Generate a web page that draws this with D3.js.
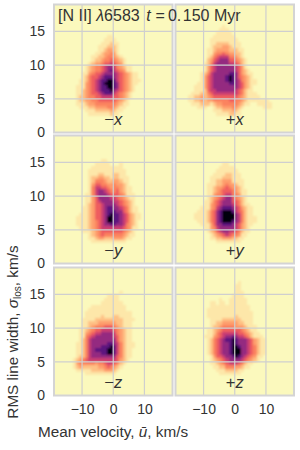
<!DOCTYPE html>
<html>
<head>
<meta charset="utf-8">
<script src="https://cdn.jsdelivr.net/npm/d3@7"></script>
<style>
  html, body { margin: 0; padding: 0; background: #fff; }
  text { font-family: "Liberation Sans", Arial, sans-serif; fill: #333; }
</style>
</head>
<body>
<div id="sandbox"></div>
<script>
// tick labels
var xTicks = [-10, 0, 10];
var yTicks = [0, 5, 10, 15];
var panelNames = ['\u2212x', '+x', '\u2212y', '+y', '\u2212z', '+z'];

// bin edges of the maps below: first column starts at -16 km/s, first row starts at 16.5 km/s
var xBins = d3.range(-16, 14);
var yBins = d3.range(16.5, 2, -0.5);

// intensity levels, 0 = empty, 9 = black
var minusX = [
 '000000 00000 00000 00000 00000 0000',
 '000000 00000 00000 00000 00000 0000',
 '000000 00000 00000 00000 00000 0000',
 '000000 00000 00000 00000 00000 0000',
 '000000 00000 00000 00000 00000 0000',
 '000000 00000 00011 00000 00000 0000',
 '000000 00000 00111 10000 00000 0000',
 '000000 00000 01112 11000 00000 0000',
 '000000 00000 11122 21000 00000 0000',
 '000000 00000 11233 21000 00000 0000',
 '000000 00001 12334 31000 00000 0000',
 '000000 00011 22344 32100 00000 0000',
 '000000 00012 23445 43210 00000 0000',
 '000000 00123 34556 54310 00000 0000',
 '000000 01234 45677 64321 10000 0000',
 '000000 01234 45678 65431 10000 0000',
 '000000 11345 56777 76543 21100 0000',
 '000000 12455 67888 76543 21100 0000',
 '000001 12456 78899 86543 21110 0000',
 '000001 13456 78999 87543 21100 0000',
 '000011 13456 78899 87543 21000 0000',
 '000011 23456 78889 76543 21000 0000',
 '000011 23455 67888 65432 10000 0000',
 '000012 23445 56666 55432 10000 0000',
 '000012 23344 55555 54321 00000 0000',
 '000011 12334 44444 43211 00000 0000',
 '000001 11223 33344 32110 00000 0000',
 '000000 01112 22223 21100 00000 0000',
 '000000 00111 11112 11000 00000 0000'
];
var plusX = [
 '000000 00000 00000 00000 00000 0000',
 '000000 00000 00000 00000 00000 0000',
 '000000 00000 01000 00000 00000 0000',
 '000000 00000 11100 00000 00000 0000',
 '000000 00001 11110 00000 00000 0000',
 '000000 00011 11111 00000 00000 0000',
 '000000 00111 11111 10000 00000 0000',
 '000000 00112 22211 11000 00000 0000',
 '000000 00122 23321 11000 00000 0000',
 '000000 01123 33322 21100 00000 0000',
 '000000 01134 45433 22100 00000 0000',
 '000000 01245 66644 32100 00000 0000',
 '000000 02356 77755 43210 00000 0000',
 '000000 12467 77766 54210 00000 0000',
 '000000 13567 77777 65310 00000 0000',
 '000000 13567 77777 65321 00000 0000',
 '000001 24677 77788 75321 10000 0000',
 '000001 35677 77898 75432 10000 0000',
 '000001 35677 77898 76432 11000 0000',
 '000011 35677 77788 76532 11000 0000',
 '000111 35677 77777 76532 10000 0000',
 '000111 25667 77777 65421 10000 0000',
 '001112 24566 66666 65421 11000 0000',
 '011223 23455 55555 54321 11100 0000',
 '011223 23344 44455 44321 11111 1000',
 '001112 22123 34444 43211 00111 1100',
 '000011 10012 23334 32100 00001 1100',
 '000000 00011 12223 21000 00000 0000',
 '000000 00001 11122 11000 00000 0000'
];
var minusY = [
 '000000 00000 00000 00000 00000 0000',
 '000000 00000 00000 00000 00000 0000',
 '000000 00000 00000 00000 00000 0000',
 '000000 00000 01100 00000 00000 0000',
 '000000 00001 11110 00100 00000 0000',
 '000000 00011 11111 11100 00000 0000',
 '000000 00111 11111 11110 00000 0000',
 '000000 00111 22111 22110 00000 0000',
 '000000 00122 33221 22111 00000 0000',
 '000000 00124 44322 33211 00000 0000',
 '000000 00135 54433 43321 00000 0000',
 '000000 00146 65543 44321 10000 0000',
 '000000 00146 77654 45321 10000 0000',
 '000000 01146 77765 55431 11000 0000',
 '000000 01135 77776 65432 11000 0000',
 '000000 01135 67777 66543 21000 0000',
 '000000 01235 56777 76543 21000 0000',
 '000000 11235 56788 77654 21100 0000',
 '000000 11235 56788 87754 21100 0000',
 '000001 11235 56789 88765 32110 0000',
 '000011 11235 56799 88765 32110 0000',
 '000011 11234 56799 88765 32100 0000',
 '000011 11234 56778 87764 32100 0000',
 '000001 11234 56666 66654 31100 0000',
 '000000 11123 45555 55543 21000 0000',
 '000000 00123 45444 44432 11000 0000',
 '000000 00112 33222 33321 10000 0000',
 '000000 00011 11111 11110 00000 0000',
 '000000 00000 00000 00000 00000 0000'
];
var plusY = [
 '000000 00000 00000 00000 00000 0000',
 '000000 00000 00000 00000 00000 0000',
 '000000 00000 00000 00000 00000 0000',
 '000000 00000 00000 00000 00000 0000',
 '000000 00000 01100 00000 00000 0000',
 '000000 00000 11111 00000 00000 0000',
 '000000 00001 11111 10000 00000 0000',
 '000000 00011 11221 11000 00000 0000',
 '000000 00111 12221 11000 00000 0000',
 '000000 00112 23331 11100 00000 0000',
 '000000 01112 23433 21100 00000 0000',
 '000000 01123 34543 32100 00000 0000',
 '000000 01123 45554 32110 00000 0000',
 '000000 01134 45664 43110 00000 0000',
 '000000 01234 56775 43210 00000 0000',
 '000000 11245 67775 54210 00000 0000',
 '000000 11345 67776 54211 00000 0000',
 '000001 11346 78887 65321 10000 0000',
 '000011 12457 89998 65421 10000 0000',
 '000111 12457 89999 76421 10000 0000',
 '000111 12457 89999 76421 11000 0000',
 '000011 12457 89998 76421 11000 0000',
 '000001 11357 78887 65321 10000 0000',
 '000000 11346 77777 65321 00000 0000',
 '000000 01235 67766 54211 00000 0000',
 '000000 00123 45654 43110 00000 0000',
 '000000 00112 23332 21100 00000 0000',
 '000000 00001 11111 11000 00000 0000',
 '000000 00000 00000 00000 00000 0000'
];
var minusZ = [
 '000000 00000 00000 00000 00000 0000',
 '000000 00000 00000 00000 00000 0000',
 '000000 00000 00000 00000 00000 0000',
 '000000 00000 00000 00100 00000 0000',
 '000000 00000 00011 11000 00000 0000',
 '000000 00000 00111 11000 00000 0000',
 '000000 00000 01111 11100 00000 0000',
 '000000 00011 11111 11110 00000 0000',
 '000000 00111 11111 11110 00000 0000',
 '000000 01111 11111 11111 10000 0000',
 '000000 01111 12111 22111 10000 0000',
 '000000 11112 22222 22211 11000 0000',
 '000000 11222 33333 32211 10000 0000',
 '000000 11234 44555 43211 10000 0000',
 '000001 12345 56666 54321 10000 0000',
 '000001 13456 67777 64321 10000 0000',
 '000001 14567 77777 65321 10000 0000',
 '000001 24677 77777 75321 10000 0000',
 '000011 24677 77788 76421 11000 0000',
 '000011 24677 78889 86421 11000 0000',
 '000011 24678 88899 86421 10000 0000',
 '000011 24677 78899 86421 10000 0000',
 '000012 24677 77777 75421 10000 0000',
 '000123 45666 66666 65321 00000 0000',
 '000134 44443 44566 54210 00000 0000',
 '000123 22222 33454 32100 00000 0000',
 '000011 11122 22333 21000 00000 0000',
 '000000 01111 11111 10000 00000 0000',
 '000000 00000 00000 00000 00000 0000'
];
var plusZ = [
 '000000 00000 00000 01000 00000 0000',
 '000000 00000 00000 11000 00000 0000',
 '000000 00000 00000 11000 00000 0000',
 '000000 00000 00000 11100 00000 0000',
 '000000 00000 00001 11100 00000 0000',
 '000000 00000 10011 11110 00000 0000',
 '000000 00110 11011 11110 00000 0000',
 '000000 00111 11111 11111 00000 0000',
 '000000 01111 11111 11111 00000 0000',
 '000000 01111 11111 11111 10000 0000',
 '000000 01111 11111 21111 10000 0000',
 '000000 00111 12222 22111 10000 0000',
 '000000 00112 23333 32211 10000 0000',
 '000000 00122 34444 33321 11000 0000',
 '000000 01123 45555 55432 11000 0000',
 '000000 01124 56666 65543 21100 0000',
 '000000 11134 56778 76654 21110 0000',
 '000000 01245 67889 87776 53211 0000',
 '000000 01245 67789 87776 53211 0000',
 '000000 01245 67789 98776 54211 0000',
 '000000 01245 67789 99776 54211 0000',
 '000000 01245 67789 99776 54211 0000',
 '000000 00135 56778 98765 43110 0000',
 '000000 00123 45677 77654 32100 0000',
 '000000 00112 34566 65421 10000 0000',
 '000000 00011 22444 33211 00000 0000',
 '000000 00001 11222 21100 00000 0000',
 '000000 00000 11111 11000 00000 0000',
 '000000 00000 00000 00000 00000 0000'
];
var panelMaps = [minusX, plusX, minusY, plusY, minusZ, plusZ];

var svg = d3.select('#sandbox').append('svg')
    .attr('width', 300)
    .attr('height', 450)
    .style('display', 'block');

var panelW = 118.5, panelH = 128;
var colX = [54, 175.5];
var rowY = [4.5, 135.5, 267.5];
var x = d3.scaleLinear().domain([-19, 19]).range([0, panelW]);
var y = d3.scaleLinear().domain([0, 19]).range([panelH, 0]);

// level -> position on the reversed magma map
var level = d3.scaleLinear().domain([0, 1, 2, 3, 4, 5, 6, 7, 8, 9])
    .range([1, 0.95, 0.87, 0.8, 0.74, 0.66, 0.55, 0.42, 0.28, 0.03]);
var color = function(v) { return d3.interpolateMagma(level(v)); };

// the bins in the reference are soft, a small blur takes the steps off
var blur = svg.append('defs').append('filter').attr('id', 'soft');
blur.append('feGaussianBlur').attr('stdDeviation', 0.8);

panelMaps.forEach(function(rows, p) {
    var col = p % 2, row = Math.floor(p / 2);
    var g = svg.append('g').attr('transform', 'translate(' + colX[col] + ',' + rowY[row] + ')');

    g.append('rect')
        .attr('width', panelW)
        .attr('height', panelH)
        .attr('fill', '#fbf9bd');

    // flatten this panel's map into cells
    var cells = [];
    rows.forEach(function(r, j) {
        r.replace(/ /g, '').split('').forEach(function(c, i) {
            if (+c > 0) cells.push({ u: xBins[i], s: yBins[j], v: +c });
        });
    });
    g.append('g').attr('filter', 'url(#soft)')
      .selectAll('rect').data(cells).enter().append('rect')
        .attr('x', function(d) { return x(d.u); })
        .attr('y', function(d) { return y(d.s + 0.5); })
        .attr('width', function(d) { return x(d.u + 1) - x(d.u); })
        .attr('height', function(d) { return y(d.s) - y(d.s + 0.5); })
        .attr('shape-rendering', 'crispEdges')
        .attr('fill', function(d) { return color(d.v); });

    // grid lines on top of the map
    g.selectAll('.vgrid').data(xTicks).enter().append('line')
        .attr('x1', function(d) { return x(d); })
        .attr('x2', function(d) { return x(d); })
        .attr('y1', 0)
        .attr('y2', panelH)
        .attr('stroke', '#cfcfcf')
        .attr('stroke-width', 1.2);
    g.selectAll('.hgrid').data(yTicks.slice(1)).enter().append('line')
        .attr('x1', 0)
        .attr('x2', panelW)
        .attr('y1', function(d) { return y(d); })
        .attr('y2', function(d) { return y(d); })
        .attr('stroke', '#cfcfcf')
        .attr('stroke-width', 1.2);

    g.append('rect')
        .attr('width', panelW)
        .attr('height', panelH)
        .attr('fill', 'none')
        .attr('stroke', '#d4d4d4')
        .attr('stroke-width', 2);

    // tick labels only on the outer panels
    if (col == 0) {
        var ya = g.append('g').call(d3.axisLeft(y).tickValues(yTicks).tickSize(0).tickPadding(9));
        ya.select('.domain').remove();
        ya.selectAll('text').style('font-size', '14px').attr('fill', null);
    }
    if (row == 2) {
        var xa = g.append('g').attr('transform', 'translate(0,' + panelH + ')')
            .call(d3.axisBottom(x).tickValues(xTicks).tickSize(0).tickPadding(9));
        xa.select('.domain').remove();
        xa.selectAll('text').style('font-size', '14px').attr('fill', null);
    }

    // -x, +x ... labels
    var name = panelNames[p];
    var lab = g.append('text')
        .attr('x', x(0))
        .attr('y', panelH - 8)
        .attr('text-anchor', 'middle')
        .style('font-size', '16.5px');
    lab.append('tspan').text(name[0]);
    lab.append('tspan').style('font-style', 'italic').text(name[1]);
});

// title runs over the two top panels
var title = svg.append('text')
    .attr('x', 58)
    .attr('y', 20.5)
    .style('font-size', '16px');
title.append('tspan').text('[N II] ');
title.append('tspan').style('font-style', 'italic').text('\u03bb');
title.append('tspan').text('6583 ');
title.append('tspan').attr('dx', 2).style('font-style', 'italic').text('t');
title.append('tspan').attr('dx', 5).text('=');
title.append('tspan').attr('dx', 3).text('0.');
title.append('tspan').attr('dx', 1.5).text('150 Myr');

var xLabel = svg.append('text')
    .attr('x', 113)
    .attr('y', 436.5)
    .attr('text-anchor', 'middle')
    .style('font-size', '15.3px');
xLabel.append('tspan').text('Mean velocity, ');
xLabel.append('tspan').style('font-style', 'italic').text('u\u0304');
xLabel.append('tspan').text(', km/s');

var yLabel = svg.append('text')
    .attr('transform', 'translate(17.5,332) rotate(-90)')
    .attr('text-anchor', 'middle')
    .style('font-size', '15.3px');
yLabel.append('tspan').text('RMS line width, ');
yLabel.append('tspan').style('font-style', 'italic').text('\u03c3');
yLabel.append('tspan').attr('dy', 3).style('font-size', '10px').text('los');
yLabel.append('tspan').attr('dy', -3).text(', km/s');
</script>
</body>
</html>
